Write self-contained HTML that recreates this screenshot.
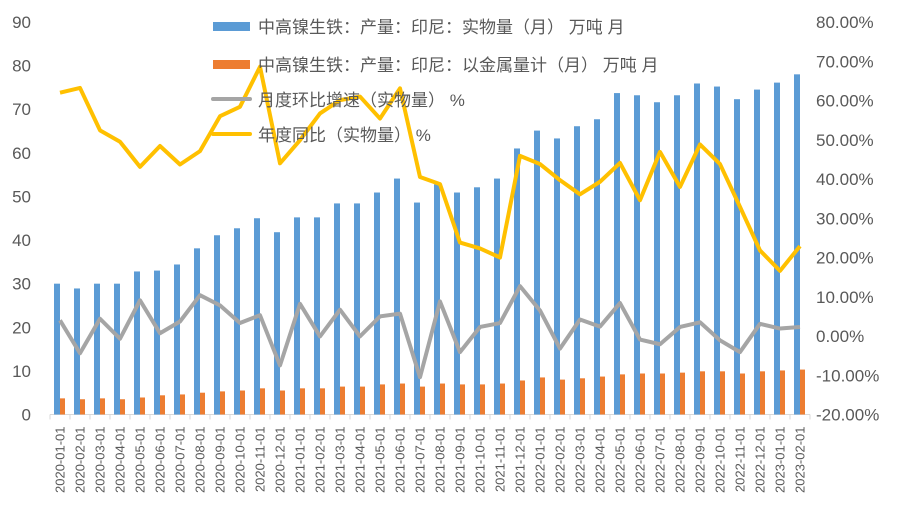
<!DOCTYPE html>
<html><head><meta charset="utf-8"><style>
html,body{margin:0;padding:0;background:#fff;}
svg{display:block;font-family:"Liberation Sans","Noto Sans CJK SC",sans-serif;}
</style></head><body>
<svg id="chart" width="902" height="528" viewBox="0 0 902 528" xmlns="http://www.w3.org/2000/svg">
<g id="grid"></g>
<g id="bars"></g>
<g id="lines"></g>
<g id="legend">
<rect x="213" y="22" width="37" height="9" fill="#5b9bd5"/>
<text x="258" y="33" font-size="17" fill="#595959">中高镍生铁：产量：印尼：实物量（月） 万吨 月</text>
<rect x="213" y="60" width="37" height="9" fill="#ed7d31"/>
<text x="258" y="71" font-size="17" fill="#595959">中高镍生铁：产量：印尼：以金属量计（月） 万吨 月</text>
<line x1="213" y1="99" x2="250" y2="99" stroke="#a5a5a5" stroke-width="4" stroke-linecap="round"/>
<text x="258" y="106" font-size="17" fill="#595959">月度环比增速（实物量） %</text>
<line x1="213" y1="134" x2="250" y2="134" stroke="#ffc000" stroke-width="4" stroke-linecap="round"/>
<text x="258" y="141" font-size="17" fill="#595959">年度同比（实物量） %</text>
</g>
</svg>
<script>
const categories = ["2020-01-01","2020-02-01","2020-03-01","2020-04-01","2020-05-01","2020-06-01","2020-07-01","2020-08-01","2020-09-01","2020-10-01","2020-11-01","2020-12-01","2021-01-01","2021-02-01","2021-03-01","2021-04-01","2021-05-01","2021-06-01","2021-07-01","2021-08-01","2021-09-01","2021-10-01","2021-11-01","2021-12-01","2022-01-01","2022-02-01","2022-03-01","2022-04-01","2022-05-01","2022-06-01","2022-07-01","2022-08-01","2022-09-01","2022-10-01","2022-11-01","2022-12-01","2023-01-01","2023-02-01"];
const outputValues = [30.0,28.9,30.0,30.0,32.8,33.0,34.4,38.1,41.1,42.7,45.0,41.8,45.2,45.2,48.4,48.4,50.9,54.1,48.6,52.8,50.9,52.1,54.1,61.0,65.1,63.3,66.1,67.7,73.7,73.2,71.6,73.2,75.9,75.2,72.3,74.5,76.1,78.0];
const metalValues = [3.7,3.5,3.7,3.5,3.9,4.4,4.6,5.0,5.3,5.5,6.0,5.5,6.0,6.0,6.4,6.4,6.9,7.1,6.4,7.1,6.9,6.9,7.1,7.8,8.5,8.0,8.3,8.7,9.2,9.4,9.4,9.6,9.9,9.9,9.4,9.9,10.1,10.3];
const momValues = [4.0,-4.4,4.4,-0.7,9.1,0.7,3.7,10.4,7.8,3.3,5.3,-7.5,8.2,-0.1,6.7,-0.1,5.0,5.7,-10.5,8.8,-4.1,2.3,3.3,12.7,6.5,-3.2,4.2,2.4,8.4,-0.9,-2.1,2.3,3.5,-1.1,-4.1,3.1,1.9,2.3];
const yoyValues = [62.0,63.2,52.4,49.5,43.1,48.4,43.7,47.1,56.0,58.4,68.6,44.0,49.9,56.7,60.1,61.0,55.4,63.1,40.5,38.7,23.8,22.3,20.0,45.9,43.8,39.7,36.1,39.3,44.1,34.6,46.9,38.0,48.8,43.8,32.9,21.8,16.6,22.9];
const leftTicks = [0,10,20,30,40,50,60,70,80,90];
const rightTicks = [-20,-10,0,10,20,30,40,50,60,70,80];

const NS="http://www.w3.org/2000/svg";
const X0=50, STEP=20, BASE=414.5, TOP=22;
const xC=i=>X0+STEP*i+STEP/2;
const yL=v=>BASE-(v/90)*(BASE-TOP);
const yR=v=>BASE-((v+20)/100)*(BASE-TOP);
function mk(tag,attrs,parent){const e=document.createElementNS(NS,tag);for(const k in attrs)e.setAttribute(k,attrs[k]);parent.appendChild(e);return e;}
const grid=document.getElementById('grid'),bars=document.getElementById('bars'),lines=document.getElementById('lines');

const ax=mk('line',{x1:X0,y1:BASE,x2:X0+STEP*categories.length,y2:BASE,stroke:'#d9d9d9','stroke-width':1},grid);


for(let i=0;i<=categories.length;i++){
  const t=mk('line',{x1:X0+STEP*i,y1:BASE,x2:X0+STEP*i,y2:BASE+5,stroke:'#d9d9d9'},grid);
  
  
}
categories.forEach((c,i)=>{
  const t=mk('text',{x:0,y:0,'font-size':13,fill:'#595959','text-anchor':'end',transform:`translate(${xC(i)+4.5},${BASE+12}) rotate(-90)`},grid);
  t.textContent=c;
  
  
});
leftTicks.forEach(v=>{
  const t=mk('text',{x:31,y:yL(v)+6,'font-size':17,fill:'#595959','text-anchor':'end'},grid);
  t.textContent=v;
  
  
});
rightTicks.forEach(v=>{
  const t=mk('text',{x:816,y:yR(v)+6,'font-size':17,fill:'#595959'},grid);
  t.textContent=v.toFixed(2)+'%';
  
  
});
outputValues.forEach((v,i)=>{
  const r=mk('rect',{x:xC(i)-6,y:yL(v),width:6,height:BASE-yL(v),fill:'#5b9bd5'},bars);
  
  
});
metalValues.forEach((v,i)=>{
  const r=mk('rect',{x:xC(i),y:yL(v),width:5,height:BASE-yL(v),fill:'#ed7d31'},bars);
  
  
});
const pm=momValues.map((v,i)=>xC(i)+','+yR(v)).join(' ');
const l1=mk('polyline',{points:pm,fill:'none',stroke:'#a5a5a5','stroke-width':4,'stroke-linejoin':'round'},lines);


const py=yoyValues.map((v,i)=>xC(i)+','+yR(v)).join(' ');
const l2=mk('polyline',{points:py,fill:'none',stroke:'#ffc000','stroke-width':4,'stroke-linejoin':'round'},lines);


</script>
</body></html>
